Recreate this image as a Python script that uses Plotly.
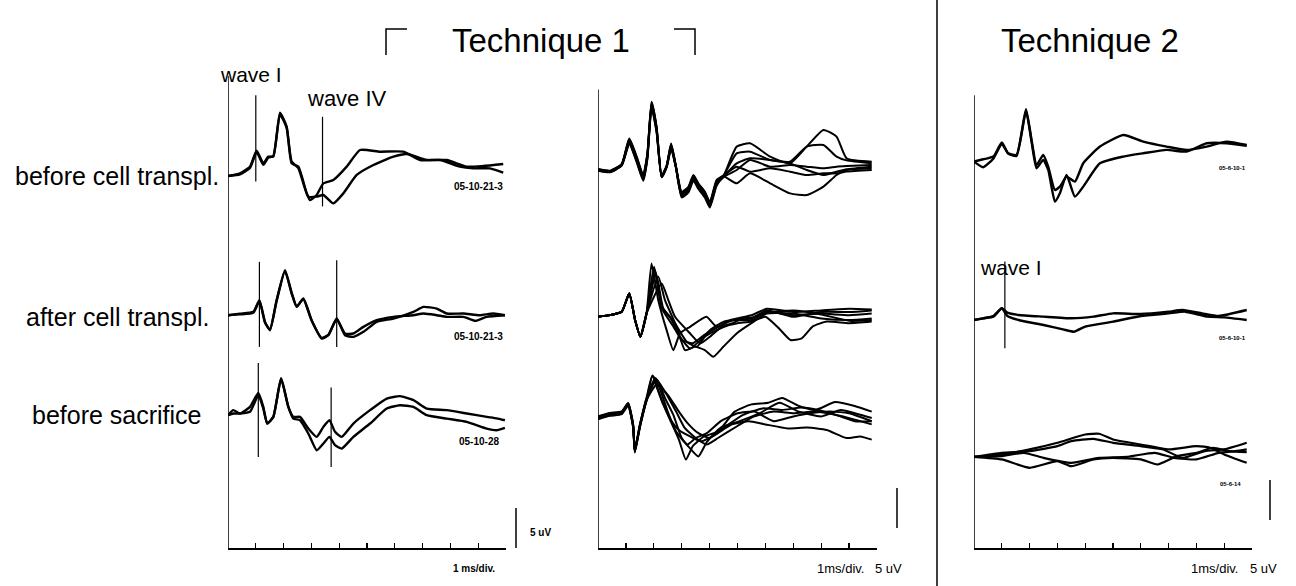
import plotly.graph_objects as go

W, H = 1296, 586
FONT = "Liberation Sans, Arial, sans-serif"

# ---------------- data (time in ms, amplitude in uV) ----------------
# Technique 1, single recordings (panel 1)
p1r1_tA = [0, 0.43, 0.79, 1.03, 1.27, 1.45, 1.63, 1.87, 2.11, 2.29, 2.53, 2.83, 2.95, 3.19, 3.43, 3.79, 4.27, 4.75, 5.47, 6.31, 6.91, 7.63, 8.34, 8.82, 9.42, 9.9]
p1r1_vA = [0, 0.33, 1.17, 3.17, 1.58, 2.42, 2.42, 7.92, 6.17, 1.58, 1.17, -2.17, -3.0, -2.38, -0.92, -0.5, 1.17, 3.25, 3.04, 3.04, 2.0, 2.0, 1.17, 0.96, 0.96, 0.42]
p1r1_tB = [0, 0.43, 0.79, 1.03, 1.27, 1.45, 1.63, 1.87, 2.11, 2.29, 2.53, 2.89, 3.19, 3.43, 3.79, 4.15, 4.63, 5.23, 5.95, 6.43, 7.15, 7.87, 8.58, 9.18, 9.9]
p1r1_vB = [0, 0.2, 1.0, 3.0, 1.4, 2.3, 2.5, 7.7, 6.0, 1.8, 1.0, -2.58, -2.58, -2.38, -3.42, -2.17, 0.13, 1.38, 2.42, 2.75, 2.0, 2.0, 1.17, 1.25, 1.5]

p1r2_tA = [0, 0.43, 0.91, 1.13, 1.33, 1.51, 1.75, 2.05, 2.29, 2.47, 2.71, 3.01, 3.37, 3.61, 3.91, 4.21, 4.51, 4.87, 5.35, 5.95, 6.67, 7.03, 7.51, 7.87, 8.47, 9.06, 9.54, 9.96]
p1r2_vA = [0, 0.2, 0.42, 1.88, -0.83, -1.88, 1.88, 5.63, 2.71, 1.04, 2.08, -0.63, -2.92, -2.5, -0.42, -2.5, -2.71, -2.08, -0.83, -0.42, 0.42, 1.04, 0.83, 0.21, 0.21, 0.0, 0.21, 0.0]
p1r2_tB = [0, 0.43, 0.91, 1.13, 1.33, 1.51, 1.75, 2.05, 2.29, 2.47, 2.71, 3.01, 3.37, 3.61, 3.91, 4.21, 4.51, 4.87, 5.35, 5.95, 6.67, 7.03, 7.51, 7.87, 8.47, 8.9, 9.3, 9.96]
p1r2_vB = [0, 0.1, 0.3, 1.75, -0.9, -1.8, 1.8, 5.5, 2.8, 1.1, 2.0, -0.7, -2.85, -2.45, -0.5, -2.29, -2.29, -1.46, -0.63, -0.21, 0.0, 0.21, 0.0, -0.21, -0.21, -0.71, -0.21, 0.0]

p1r3_t = [0, 0.19, 0.43, 0.79, 1.09, 1.27, 1.41, 1.63, 1.91, 2.17, 2.35, 2.59, 2.89, 3.19, 3.43, 3.65, 3.85, 4.09, 4.51, 5.11, 5.71, 6.19, 6.67, 7.15, 7.87, 8.59, 9.31, 9.66, 9.96]
p1r3_vA = [0, 0.63, 0.21, 1.04, 2.79, 1.04, -1.04, -0.21, 4.58, 1.04, -0.21, -0.21, -1.67, -2.71, -1.46, -0.63, -2.08, -2.71, -1.04, 0.63, 2.08, 2.38, 1.88, 0.83, 0.63, 0.21, -0.21, -0.4, -0.63]
p1r3_vB = [0, 0.21, 0.21, 0.42, 2.5, 0.83, -1.04, -0.21, 4.58, 1.04, -0.42, -0.63, -2.29, -4.38, -3.54, -2.71, -3.75, -4.17, -2.71, -1.04, 0.83, 1.25, 1.04, 0.0, -0.42, -0.83, -1.67, -1.88, -1.58]

# Technique 1, repeated recordings (panel 2)
p2r1_t_early = [0.0, 0.43, 0.85, 1.12, 1.39, 1.62, 1.77, 1.92, 2.10, 2.28, 2.46, 2.62, 2.79, 3.0, 3.24, 3.42, 3.6, 3.83, 4.01, 4.25, 4.49]
p2r1_v_early = [0, -0.2, 0.63, 3.54, 1.25, -1.04, 1.67, 8.13, 5.0, -0.83, 0.42, 2.92, 0.42, -3.13, -2.5, -1.04, -2.08, -3.13, -4.38, -1.67, -0.83]
p2r1_t_late = [4.97, 5.45, 6.17, 6.88, 7.48, 8.08, 8.55, 8.91, 9.81]
p2r1_v_late = [
    [2.92, 3.33, 1.67, 0.83, 2.92, 5.0, 4.17, 1.46, 1.04],
    [2.08, 2.29, 1.25, 1.04, 2.92, 3.13, 1.67, 1.2, 0.83],
    [0.0, 1.25, 0.42, 0.63, 0.42, 0.21, 0.42, 0.5, 0.63],
    [-1.67, -0.42, -1.67, -2.92, -3.13, -2.08, -0.63, 0.0, 0.21],
    [0.83, 1.46, 1.25, 0.83, 0.0, -0.63, -0.21, 0.1, 0.42],
    [0.42, -0.21, 0.21, -0.21, -0.63, -0.42, -0.42, -0.2, 0.0],
]
p2r1_jitter = [0.0, 0.3, -0.3, 0.15, -0.15, 0.4]

p2r2_t_early = [0.0, 0.43, 0.85, 1.12, 1.33, 1.52, 1.74]
p2r2_v_early = [0, 0.21, 0.63, 2.92, -0.42, -2.5, 0.42]
p2r2_t_mid = [
    [1.92, 2.16, 2.46, 2.7, 2.94, 3.3, 3.89, 4.25, 4.73],
    [2.01, 2.28, 2.58, 2.94, 3.3, 3.66, 4.01, 4.49, 4.9],
    [2.08, 2.34, 2.76, 3.18, 3.54, 3.83, 4.25, 4.7, 5.0],
    [2.16, 2.4, 2.82, 3.12, 3.48, 3.83, 4.13, 4.49, 4.97],
    [2.28, 2.52, 2.76, 3.3, 3.66, 4.01, 4.43, 4.8, 5.0],
    [2.05, 2.3, 2.7, 3.0, 3.4, 3.8, 4.3, 4.7, 5.0],
]
p2r2_v_mid = [
    [6.67, 2.08, -1.67, -4.17, -2.08, -1.25, 0.0, -1.25, -0.42],
    [6.25, 1.25, 0.0, -2.5, -3.96, -2.92, -1.67, -0.63, -0.4],
    [5.42, 1.04, -0.83, -3.13, -3.75, -2.5, -1.67, -1.04, -0.8],
    [5.0, 2.08, -1.25, -4.17, -3.75, -4.17, -5.0, -3.75, -2.08],
    [4.17, 2.08, 0.0, -2.08, -3.33, -2.5, -1.25, -0.83, -0.5],
    [5.8, 1.0, -1.2, -2.9, -3.3, -2.3, -1.3, -0.6, -0.3],
]
p2r2_t_late = [
    [5.5, 6.05, 7.0, 8.0, 9.0, 9.81],
    [5.5, 6.05, 7.0, 8.0, 9.0, 9.81],
    [5.5, 6.0, 6.5, 6.9, 7.3, 7.7, 8.2, 9.0, 9.81],
    [5.5, 6.05, 7.0, 8.0, 9.0, 9.81],
    [5.5, 6.05, 7.0, 8.0, 9.0, 9.81],
    [5.5, 6.05, 7.0, 8.0, 9.0, 9.81],
]
p2r2_v_late = [
    [0.2, 1.0, 0.6, 0.8, 1.0, 0.9],
    [-0.4, 0.6, 0.2, 0.4, 0.2, 0.4],
    [-0.6, 0.0, -1.5, -2.9, -2.7, -1.2, -0.6, -0.8, -0.6],
    [-0.8, 0.4, 0.4, -0.2, -0.4, -0.2],
    [-0.2, 0.8, 0.0, 0.6, 0.6, 0.8],
    [-0.1, 0.5, 0.8, 0.3, -0.5, -0.4],
]

p2r3_t_early = [0.0, 0.43, 0.85, 1.08, 1.26, 1.32, 1.5, 1.74]
p2r3_v_early = [0, 0.42, 0.63, 1.67, -1.04, -4.17, -1.04, 2.29]
p2r3_t = [
    [1.95, 2.28, 2.58, 2.9, 3.15, 3.4, 3.8, 4.3, 4.9, 5.5, 6.1, 6.6, 7.2, 7.8, 8.5, 9.2, 9.81],
    [2.1, 2.4, 2.7, 3.0, 3.3, 3.6, 3.9, 4.4, 5.0, 5.8, 6.5, 7.2, 8.0, 8.7, 9.3, 9.81],
    [2.05, 2.4, 2.8, 3.1, 3.5, 3.9, 4.3, 5.0, 5.6, 6.3, 7.0, 7.8, 8.5, 9.2, 9.81],
    [2.0, 2.3, 2.6, 2.9, 3.3, 3.7, 4.2, 4.8, 5.4, 6.0, 6.8, 7.5, 8.2, 8.9, 9.4, 9.81],
    [2.1, 2.5, 2.9, 3.2, 3.6, 4.0, 4.6, 5.2, 5.9, 6.6, 7.3, 8.0, 8.6, 9.2, 9.81],
    [1.95, 2.2, 2.5, 2.8, 3.2, 3.5, 3.9, 4.4, 5.0, 5.6, 6.3, 7.0, 7.6, 8.3, 9.0, 9.81],
]
p2r3_v = [
    [5.2, 2.3, -0.2, -2.7, -5.2, -3.5, -2.3, -1.7, 0.8, 1.7, 1.9, 2.5, 1.5, 1.0, 2.0, 1.5, 0.8],
    [4.8, 2.5, 0.4, -2.5, -3.8, -4.8, -3.0, -1.2, -0.5, 0.6, 1.9, 0.8, 0.2, 1.0, 0.5, 0.0],
    [5.0, 3.3, 0.8, -1.2, -2.5, -3.3, -2.5, -1.0, 0.2, 0.8, 0.6, 0.8, 0.4, -0.2, -0.8],
    [4.6, 2.0, -0.2, -1.5, -2.3, -2.9, -2.1, -0.8, -0.4, -0.8, -1.3, -1.2, -1.5, -2.5, -2.3, -2.7],
    [4.2, 2.9, 0.8, -0.6, -1.9, -2.5, -1.0, 0.4, 1.2, 1.0, 1.3, 0.9, 0.3, -0.4, -0.4],
    [5.3, 3.8, 0.8, -1.7, -3.3, -2.5, -1.9, -0.4, 0.6, 0.8, -0.4, 0.2, 0.6, 0.8, 0.6, -0.4],
]

# Technique 2 (panel 3)
p3r1_tA = [0, 0.33, 0.7, 1.0, 1.23, 1.53, 1.87, 2.07, 2.25, 2.49, 2.67, 2.91, 3.09, 3.33, 3.63, 3.93, 4.53, 5.37, 6.09, 6.93, 7.65, 8.37, 9.09, 9.81]
p3r1_vA = [0, 0.29, 0.63, 2.38, 1.04, 0.83, 6.54, 2.71, -0.42, 0.83, -0.63, -3.54, -3.13, -1.88, -2.5, -0.21, 1.88, 3.33, 2.5, 1.88, 1.46, 1.88, 2.5, 2.08]
p3r1_vB = [0, -0.71, 0.4, 2.2, 1.0, 0.7, 6.3, 2.5, -0.83, 0.21, -1.04, -5.0, -3.96, -1.67, -4.38, -3.13, -0.21, 0.63, 1.04, 1.46, 1.25, 2.29, 2.29, 1.96]

p3r2_tA = [0, 0.33, 0.7, 1.0, 1.2, 1.6, 2.5, 3.5, 4.3, 5.0, 6.0, 7.0, 7.5, 8.2, 8.8, 9.81]
p3r2_vA = [0, 0.21, 0.5, 1.46, 0.92, 0.63, 0.42, 0.21, 0.42, 0.83, 0.75, 1.04, 1.25, 0.83, 0.5, 1.25]
p3r2_tB = [0, 0.33, 0.7, 1.0, 1.2, 1.6, 2.5, 3.2, 3.6, 4.0, 5.0, 6.0, 7.0, 7.6, 8.4, 9.0, 9.81]
p3r2_vB = [0, 0.21, 0.42, 1.46, 0.5, 0.0, -0.63, -1.17, -1.46, -0.83, -0.21, 0.5, 0.83, 1.04, 0.42, 0.33, 0.0]

p3r3_t = [
    [0, 1.0, 2.0, 3.0, 4.0, 4.5, 5.0, 6.0, 7.0, 8.0, 8.5, 9.0, 9.81],
    [0, 1.0, 2.0, 3.0, 3.5, 4.3, 5.0, 6.0, 6.8, 7.5, 8.3, 9.0, 9.81],
    [0, 1.0, 2.0, 3.0, 3.5, 4.3, 5.0, 6.0, 6.6, 7.3, 8.0, 8.6, 9.2, 9.81],
    [0, 1.0, 1.8, 2.5, 3.5, 4.5, 5.5, 6.5, 7.2, 8.0, 8.8, 9.4, 9.81],
]
p3r3_v = [
    [0, 0.29, 0.92, 1.75, 2.79, 2.88, 2.17, 1.54, 0.92, 1.33, 1.13, 0.29, -0.75],
    [0, 0.5, 0.71, 1.33, 1.96, 2.25, 1.75, 1.33, 0.92, -0.13, 0.71, 0.92, 1.75],
    [0, -0.33, -1.38, -0.54, -1.17, -0.33, -0.13, -0.33, -0.96, 0.08, 0.5, 1.13, 0.71, 0.58],
    [0, 0.08, 0.5, -0.13, -0.75, -0.13, 0.0, 0.5, -0.13, -0.33, 0.5, 0.71, 0.92],
]

# wave markers: (latency ms, top uV, bottom uV)
markers_p1 = [[(1.0, 10.1, -0.7), (3.4, 7.4, -3.8)],
              [(1.13, 6.67, -3.96), (3.91, 6.88, -3.96)],
              [(1.09, 6.54, -5.21), (3.71, 3.46, -6.46)]]
markers_p3 = [[], [(1.11, 7.3, -3.54)], []]

record_ids_p1 = ["05-10-21-3", "05-10-21-3", "05-10-28"]
record_ids_p3 = ["05-6-10-1", "05-6-10-1", "05-6-14"]
row_labels = ["before cell transpl.", "after cell transpl.", "before sacrifice"]
titles = ["Technique 1", "Technique 2"]

# ---------------- layout constants ----------------
PX_PER_UV = 8.0
AXIS_Y_PX = 548
Y_RANGE = [-(H - AXIS_Y_PX) / PX_PER_UV, AXIS_Y_PX / PX_PER_UV]
PANEL_X = [(228, 506), (598, 877), (974, 1252)]   # pixel spans of 0..10 ms
OFFSETS = [[46.5, 29.1, 16.6], [47.25, 28.9, 16.25], [48.3, 28.5, 11.4]]
XAX = ["x", "x2", "x3"]
LW = 2.4


def px(x):
    return x / W


def py(y):
    return 1 - y / H


fig = go.Figure()


def add(panel, row, t, v, width=LW):
    off = OFFSETS[panel][row]
    fig.add_trace(go.Scatter(x=t, y=[a + off for a in v], mode="lines",
                             line=dict(color="black", width=width, shape="spline", smoothing=0.5),
                             xaxis=XAX[panel], yaxis="y", hoverinfo="skip",
                             showlegend=False))


# panel 1
add(0, 0, p1r1_tA, p1r1_vA)
add(0, 0, p1r1_tB, p1r1_vB)
add(0, 1, p1r2_tA, p1r2_vA)
add(0, 1, p1r2_tB, p1r2_vB)
add(0, 2, p1r3_t, p1r3_vA)
add(0, 2, p1r3_t, p1r3_vB)

# panel 2
for k, late in enumerate(p2r1_v_late):
    j = p2r1_jitter[k]
    early = [a + (j if abs(a) > 1 else j * 0.3) for a in p2r1_v_early]
    add(1, 0, p2r1_t_early + p2r1_t_late, early + late, width=2.0)
for k in range(6):
    add(1, 1, p2r2_t_early + p2r2_t_mid[k] + p2r2_t_late[k],
        p2r2_v_early + p2r2_v_mid[k] + p2r2_v_late[k], width=2.0)
for k in range(6):
    j = p2r1_jitter[k]
    early = [a + j * 0.5 for a in p2r3_v_early]
    add(1, 2, p2r3_t_early + p2r3_t[k], early + p2r3_v[k], width=2.0)

# panel 3
add(2, 0, p3r1_tA, p3r1_vA)
add(2, 0, p3r1_tA, p3r1_vB)
add(2, 1, p3r2_tA, p3r2_vA)
add(2, 1, p3r2_tB, p3r2_vB)
for k in range(4):
    add(2, 2, p3r3_t[k], p3r3_v[k], width=2.2)

shapes = []
# wave markers
for panel, mk in ((0, markers_p1), (2, markers_p3)):
    for row, lst in enumerate(mk):
        off = OFFSETS[panel][row]
        for (lat, top, bot) in lst:
            shapes.append(dict(type="line", xref=XAX[panel], yref="y",
                               x0=lat, x1=lat, y0=bot + off, y1=top + off,
                               line=dict(color="black", width=1.2)))

# left vertical axis lines
LEFT_TOP = [59.0, 57.3, 56.6]
for p in range(3):
    shapes.append(dict(type="line", xref=XAX[p], yref="y", x0=0, x1=0,
                       y0=0, y1=LEFT_TOP[p], line=dict(color="black", width=1.5)))

# 5 uV scale bars (x in pixels, bottom in uV)
SCALE_X_PX = [516, 897, 1270]
SCALE_BOTTOM = [0.0, 2.5, 3.5]
for p in range(3):
    shapes.append(dict(type="line", xref="paper", yref="y", x0=px(SCALE_X_PX[p]), x1=px(SCALE_X_PX[p]),
                       y0=SCALE_BOTTOM[p], y1=SCALE_BOTTOM[p] + 5, line=dict(color="black", width=1.5)))

# separator
shapes.append(dict(type="line", xref="paper", yref="paper", x0=px(937), x1=px(937),
                   y0=0, y1=1, line=dict(color="black", width=1.5)))
# Technique 1 brackets
shapes.append(dict(type="path", xref="paper", yref="paper",
                   path=f"M {px(386)} {py(55)} L {px(386)} {py(29)} L {px(407)} {py(29)}",
                   line=dict(color="black", width=1.5)))
shapes.append(dict(type="path", xref="paper", yref="paper",
                   path=f"M {px(674)} {py(29)} L {px(695)} {py(29)} L {px(695)} {py(55)}",
                   line=dict(color="black", width=1.5)))

ann = []


def text(s, x, y, size, xanchor="center", bold=False):
    ann.append(dict(text=f"<b>{s}</b>" if bold else s, xref="paper", yref="paper",
                    x=px(x), y=py(y), xanchor=xanchor, yanchor="middle", showarrow=False,
                    font=dict(family=FONT, size=size, color="black")))


text(titles[0], 541, 40, 33)
text(titles[1], 1090, 40, 33)

ROW_LABEL_Y = [176, 317, 415]
for i, lab in enumerate(row_labels):
    text(lab, 117, ROW_LABEL_Y[i], 25)

text("wave I", 218, 74, 21, "left")
text("wave IV", 305, 98, 22, "left")
text("wave I", 978, 268, 21, "left")

ID_POS_P1 = [(505, 186), (505, 336), (501, 441)]
for i, t in enumerate(record_ids_p1):
    text(t, ID_POS_P1[i][0], ID_POS_P1[i][1], 10, "right", bold=True)
ID_POS_P3 = [(1248, 168), (1248, 338), (1243, 484)]
for i, t in enumerate(record_ids_p3):
    text(t, ID_POS_P3[i][0], ID_POS_P3[i][1], 6, "right", bold=True)

text("1 ms/div.", 497, 568, 10, "right", bold=True)
text("5 uV", 528, 532, 10, "left", bold=True)
text("1ms/div.", 866, 568, 13, "right")
text("5 uV", 873, 568, 13, "left")
text("1ms/div.", 1240, 568, 13, "right")
text("5 uV", 1248, 568, 13, "left")

axis_common = dict(range=[0, 10], dtick=1, tick0=0, showline=True, linecolor="black",
                   linewidth=1.5, ticks="inside", ticklen=5, tickwidth=1.2, tickcolor="black",
                   showticklabels=False, showgrid=False, zeroline=False,
                   anchor="free", position=(H - AXIS_Y_PX) / H)

fig.update_layout(
    width=W, height=H, margin=dict(l=0, r=0, t=0, b=0),
    paper_bgcolor="white", plot_bgcolor="rgba(0,0,0,0)",
    xaxis=dict(domain=[PANEL_X[0][0] / W, PANEL_X[0][1] / W], **axis_common),
    xaxis2=dict(domain=[PANEL_X[1][0] / W, PANEL_X[1][1] / W], **axis_common),
    xaxis3=dict(domain=[PANEL_X[2][0] / W, PANEL_X[2][1] / W], **axis_common),
    yaxis=dict(domain=[0, 1], range=Y_RANGE, visible=False, anchor="x"),
    shapes=shapes, annotations=ann, showlegend=False,
)

fig.write_html("out.html", config={"displayModeBar": False, "staticPlot": True},
               post_script="document.body.style.margin='0';")
